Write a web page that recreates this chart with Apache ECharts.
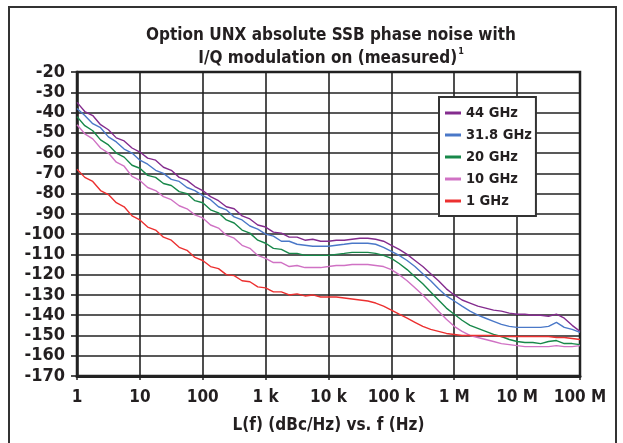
<!DOCTYPE html>
<html>
<head>
<meta charset="utf-8">
<script src="https://cdn.jsdelivr.net/npm/echarts@6/dist/echarts.min.js"></script>
<style>
html,body{margin:0;padding:0;background:#fff;}
#chart{width:623px;height:443px;}
</style>
</head>
<body>
<div id="chart"></div>
<script>
// Offset frequencies (Hz), 1/8-decade steps
const freq = [
  1, 1.33, 1.78, 2.37, 3.16, 4.22, 5.62, 7.5,
  10, 13.3, 17.8, 23.7, 31.6, 42.2, 56.2, 75,
  100, 133, 178, 237, 316, 422, 562, 750,
  1e3, 1.33e3, 1.78e3, 2.37e3, 3.16e3, 4.22e3, 5.62e3, 7.5e3,
  1e4, 1.33e4, 1.78e4, 2.37e4, 3.16e4, 4.22e4, 5.62e4, 7.5e4,
  1e5, 1.33e5, 1.78e5, 2.37e5, 3.16e5, 4.22e5, 5.62e5, 7.5e5,
  1e6, 1.33e6, 1.78e6, 2.37e6, 3.16e6, 4.22e6, 5.62e6, 7.5e6,
  1e7, 1.33e7, 1.78e7, 2.37e7, 3.16e7, 4.22e7, 5.62e7, 7.5e7,
  1e8
];

const names = ['44 GHz', '31.8 GHz', '20 GHz', '10 GHz', '1 GHz'];
const colors = ['#842c8e', '#4a78c8', '#18884a', '#d072c4', '#ec3030'];

const ghz44 = [
  -35, -39.5, -41.5, -46, -48.5, -52.5, -54, -57.5,
  -59.5, -62.5, -63.5, -67, -68.5, -72, -73.5, -76.5,
  -78.5, -81.5, -83.5, -86.5, -87.5, -91, -92.5, -95.5,
  -96.5, -99, -99.5, -101.5, -101.5, -103, -102.5, -103.5,
  -103.5, -103, -103, -102.5, -102, -102, -102.5, -103.5,
  -105.5, -107.5, -110, -113, -116, -119.5, -123, -127,
  -130, -132.5, -134, -135.5, -136.5, -137.5, -138, -139,
  -139.5, -139.5, -140, -140, -140.5, -139.5, -141.5, -145,
  -148
];
const ghz318 = [
  -38, -41.5, -45.5, -47.5, -52, -54.5, -58, -60,
  -63.5, -65.5, -68.5, -70, -73, -74, -77, -78.5,
  -81, -83, -86.5, -88, -91.5, -93, -96, -97.5,
  -100, -101, -103.5, -103.5, -105, -105.5, -106, -106,
  -106, -105.5, -105, -104.5, -104.5, -104.5, -105, -106.5,
  -108.5, -110.5, -113, -116, -119.5, -123, -127, -130.5,
  -133, -135.5, -138, -140, -141.5, -143, -144.5, -145.5,
  -146, -146, -146, -146, -145.5, -143.5, -146, -147,
  -148.5
];
const ghz20 = [
  -42, -46.5, -49, -53.5, -56, -60, -62, -66,
  -67.5, -71, -72, -75, -76, -79, -80, -83.5,
  -84.5, -88, -89.5, -93, -94.5, -98, -99.5, -103,
  -104.5, -107, -107.5, -109.5, -109.5, -110.5, -110.5, -110.5,
  -110.5, -110, -109.5, -109, -109, -109, -109.5, -110.5,
  -112, -114.5, -117.5, -121, -124.5, -128.5, -132.5, -136.5,
  -139.5, -142.5, -145, -146.5, -148, -149.5, -150.5, -152,
  -153, -153.5, -153.5, -154, -153, -152.5, -154, -154,
  -154.5
];
const ghz10 = [
  -46, -50.5, -53, -57.5, -60, -64.5, -66.5, -71.5,
  -73.5, -77, -78.5, -81.5, -83, -86, -87.5, -90.5,
  -92, -95.5, -97, -100.5, -102, -105.5, -107, -110.5,
  -112, -114, -114, -116, -115.5, -116.5, -116.5, -116.5,
  -116, -115.5, -115.5, -115, -115, -115, -115.5, -116,
  -117.5, -120, -123, -126.5, -130, -134, -138, -142,
  -145.5, -148, -150, -151, -152, -153, -154, -154.5,
  -155, -155.5, -155.5, -155.5, -155.5, -155, -155.5, -155.5,
  -155
];
const ghz1 = [
  -68, -72, -74, -78.5, -80.5, -84.5, -86.5, -91,
  -93, -96.5, -98, -101.5, -103, -106.5, -108, -111.5,
  -113, -116, -117, -120, -120.5, -123, -123.5, -126,
  -126.5, -128.5, -128.5, -130, -129.5, -130.5, -130, -131,
  -131, -131, -131.5, -132, -132.5, -133, -134, -135.5,
  -137.5, -139.5, -141.5, -143.5, -145.5, -147, -148, -149,
  -149.5, -150, -150, -150, -150, -150, -150.5, -150.5,
  -150.5, -150.5, -150.5, -150.5, -150.5, -151, -151, -151.5,
  -152
];
const seriesValues = [ghz44, ghz318, ghz20, ghz10, ghz1];

const xTickLabels = ['1', '10', '100', '1 k', '10 k', '100 k', '1 M', '10 M', '100 M'];

const FONT = '"Liberation Sans Narrow", "DejaVu Sans Condensed", "Arial Narrow", sans-serif';
const INK = '#231f20';

const chart = echarts.init(document.getElementById('chart'), null, {renderer: 'canvas'});

const series = names.map((n, k) => ({
  name: n,
  type: 'line',
  showSymbol: false,
  symbol: 'none',
  smooth: false,
  lineStyle: {color: colors[k], width: 1.4},
  itemStyle: {color: colors[k]},
  data: freq.map((f, i) => [f, seriesValues[k][i]]),
  z: 3
}));

chart.setOption({
  animation: false,
  backgroundColor: '#ffffff',
  graphic: [{
    type: 'rect',
    shape: {x: 9, y: 7, width: 607, height: 450},
    style: {fill: 'none', stroke: '#333', lineWidth: 2},
    z: 0
  }],
  title: {
    text: 'Option UNX absolute SSB phase noise with\nI/Q modulation on (measured){sup|1}',
    left: 326,
    textAlign: 'center',
    top: 19,
    textStyle: {
      fontFamily: FONT,
      fontWeight: 'bold',
      fontSize: 17,
      lineHeight: 23,
      color: INK,
      rich: {
        sup: {fontFamily: FONT, fontWeight: 'bold', fontSize: 9, verticalAlign: 'top', lineHeight: 23, padding: [0, 0, 8, 1], color: INK}
      }
    }
  },
  legend: {
    orient: 'vertical',
    left: 439,
    top: 97,
    data: names,
    icon: 'rect',
    itemWidth: 16,
    itemHeight: 3,
    itemGap: 6,
    padding: [8, 4, 7, 6],
    backgroundColor: '#ffffff',
    borderColor: '#333',
    borderWidth: 2,
    textStyle: {fontFamily: FONT, fontWeight: 'bold', fontSize: 14.5, lineHeight: 16, color: INK},
    z: 10
  },
  grid: {left: 77, right: 43, top: 72, bottom: 67, show: true, borderColor: '#222', borderWidth: 2.5},
  xAxis: {
    type: 'log',
    logBase: 10,
    min: 1,
    max: 1e8,
    splitNumber: 8,
    name: 'L(f) (dBc/Hz) vs. f (Hz)',
    nameLocation: 'middle',
    nameGap: 41,
    nameTextStyle: {fontFamily: FONT, fontWeight: 'bold', fontSize: 17, color: INK},
    axisLine: {show: true, lineStyle: {color: '#222', width: 3}},
    axisTick: {show: true, length: 4, lineStyle: {color: '#222', width: 1.5}},
    minorTick: {show: false},
    splitLine: {show: true, lineStyle: {color: '#222', width: 1.6}},
    axisLabel: {
      margin: 13,
      fontFamily: FONT, fontWeight: 'bold', fontSize: 17, color: INK,
      formatter: function (v) {
        const e = Math.round(Math.log10(v));
        return xTickLabels[e] !== undefined ? xTickLabels[e] : '';
      }
    }
  },
  yAxis: {
    type: 'value',
    min: -170,
    max: -20,
    interval: 10,
    axisLine: {show: true, onZero: false, lineStyle: {color: '#222', width: 2.5}},
    axisTick: {show: true, length: 6, lineStyle: {color: '#222', width: 1.6}},
    splitLine: {show: true, lineStyle: {color: '#222', width: 1.6}},
    axisLabel: {margin: 12, fontFamily: FONT, fontWeight: 'bold', fontSize: 18, color: INK}
  },
  series: series
});
</script>
</body>
</html>
